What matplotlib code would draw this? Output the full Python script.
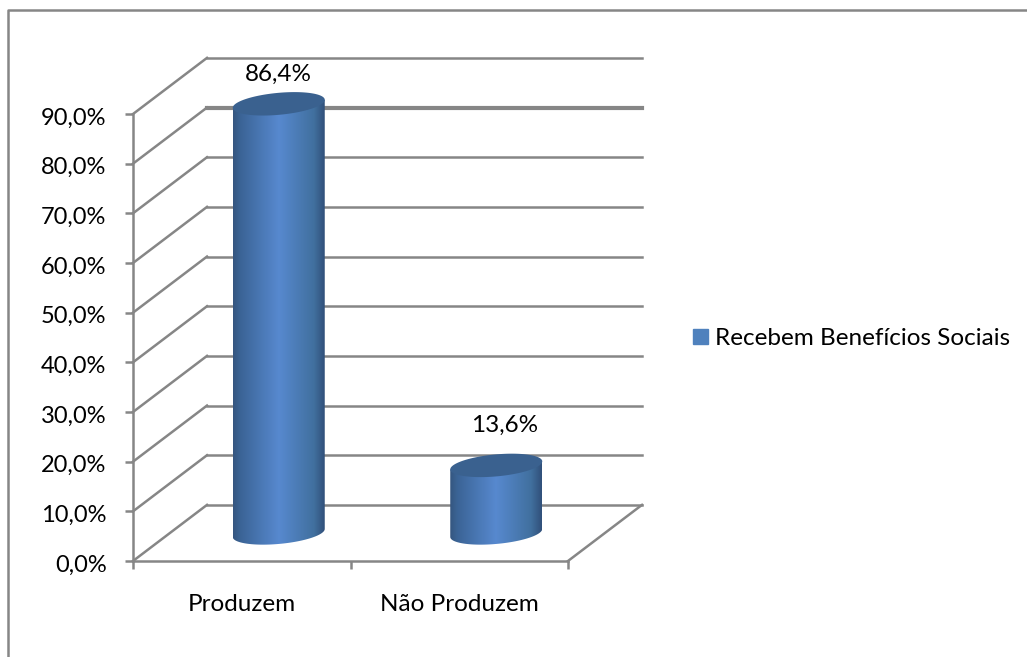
import numpy as np
import matplotlib
matplotlib.use("Agg")
import matplotlib.pyplot as plt
from matplotlib.colors import LinearSegmentedColormap
from matplotlib.patches import Patch, Polygon
from matplotlib.transforms import ScaledTranslation

categories = ["Produzem", "Não Produzem"]
values = [86.4, 13.6]
value_labels = ["86,4%", "13,6%"]
y_ticks = [0, 10, 20, 30, 40, 50, 60, 70, 80, 90]
y_tick_labels = ["0,0%", "10,0%", "20,0%", "30,0%", "40,0%", "50,0%", "60,0%", "70,0%", "80,0%", "90,0%"]
series_name = "Recebem Benefícios Sociais"

GRAY = "#868686"
W, H = 1027, 657
plt.rcParams["font.family"] = "Lato"

fig = plt.figure(figsize=(W / 100, H / 100), dpi=100)
fig.patch.set_facecolor("white")

# chart frame: only the top and left edges are inside the picture
fig.add_artist(plt.Line2D([8 / W, 8 / W, 1], [0, 1 - 10 / H, 1 - 10 / H], color=GRAY, lw=1.8))

ax = fig.add_axes([133 / W, 1 - 561 / H, 435 / W, 447 / H])
ax.set_xlim(0, 2)
ax.set_ylim(0, 90)

# depth of the 3d box, in data units
dx = 74 / 217.5
dy = 11.3

# walls and floor
for v in y_ticks:
    ax.plot([0, dx], [v, v + dy], color=GRAY, lw=1.8, clip_on=False, zorder=1)
    ax.plot([dx, 2 + dx], [v + dy, v + dy], color=GRAY, lw=3 if v == 80 else 1.8, clip_on=False, zorder=1)
ax.plot([2, 2 + dx], [0, dy], color=GRAY, lw=1.8, clip_on=False, zorder=1)

ax.set_facecolor("none")
for side in ["top", "right"]:
    ax.spines[side].set_visible(False)
for side in ["left", "bottom"]:
    ax.spines[side].set_color(GRAY)
    ax.spines[side].set_linewidth(1.8)
ax.set_yticks(y_ticks)
ax.set_yticklabels(y_tick_labels)
ax.set_xticks([0, 1, 2])
ax.set_xticklabels([])
ax.set_xticks([0.5, 1.5], minor=True)
ax.set_xticklabels(categories, minor=True)
ax.tick_params(axis="both", which="major", color=GRAY, width=1.8, length=6)
ax.tick_params(axis="y", labelsize=17, pad=13)
ax.tick_params(axis="x", which="minor", length=0, labelsize=17.5, pad=23.5)
for label in ax.get_yticklabels():
    label.set_transform(label.get_transform() + ScaledTranslation(0, -1.5 / 72, fig.dpi_scale_trans))

# cylinders
cyl = LinearSegmentedColormap.from_list("cyl", [
    (0.0, "#35567f"), (0.08, "#3b6496"), (0.5, "#5789cf"), (0.88, "#41709f"), (1.0, "#31507a")])
a = 46 / 217.5
b = 11 / 4.96
shear = 4 / 4.96
t = np.linspace(0, 2 * np.pi, 121)
label_dx = [0, 6]
label_dy = [21, 29]
for i, val in enumerate(values):
    cx = i + 0.5 + dx / 2
    base = dy / 2
    top = val + dy / 2
    # outline of the body: side edges, then lower half of the bottom ellipse
    tb = np.linspace(np.pi, 2 * np.pi, 61)
    bx = cx + a * np.cos(tb)
    by = base + b * np.sin(tb) + shear * np.cos(tb)
    body = np.vstack([[cx - a, top - shear], np.column_stack([bx, by]), [cx + a, top + shear]])
    poly = Polygon(body, closed=True, transform=ax.transData, facecolor="none", edgecolor="none")
    ax.add_patch(poly)
    poly.set_clip_on(False)
    im = ax.imshow(np.linspace(0, 1, 256).reshape(1, -1), cmap=cyl, aspect="auto",
                   extent=[cx - a, cx + a, base - 2 * b, top + shear], zorder=3)
    im.set_clip_box(fig.bbox)
    im.set_clip_path(poly)
    ax.fill(cx + a * np.cos(t), top + b * np.sin(t) + shear * np.cos(t), color="#3a618f",
            lw=0, clip_on=False, zorder=4)
    ax.annotate(value_labels[i], (cx, top), xytext=(label_dx[i], label_dy[i]), textcoords="offset points",
                ha="center", va="center", fontsize=17.5, color="black", annotation_clip=False)
ax.set_xlim(0, 2)
ax.set_ylim(0, 90)

fig.legend(handles=[Patch(facecolor="#4f81bd", edgecolor="#4f81bd", label=series_name)],
           loc="center left", bbox_to_anchor=(693 / W, 1 - 338.5 / H), frameon=False, fontsize=17.5,
           handlelength=0.62, handleheight=0.62, handletextpad=0.29, borderpad=0, borderaxespad=0)

fig.savefig("out.png", dpi=100)
